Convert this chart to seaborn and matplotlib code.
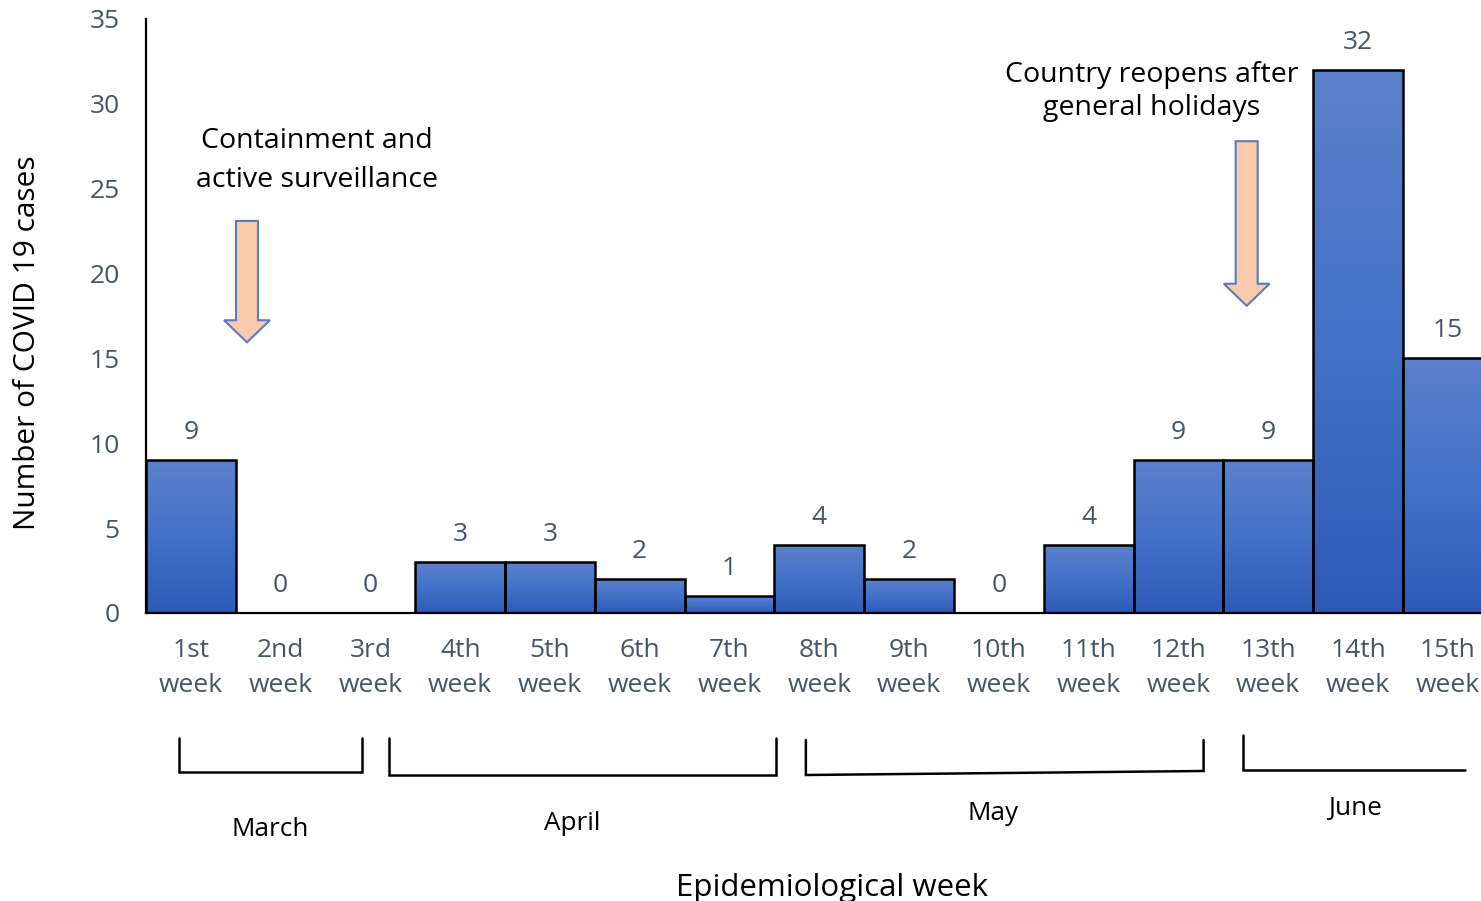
import numpy as np
import pandas as pd
import seaborn as sns
import matplotlib.pyplot as plt
from matplotlib.colors import LinearSegmentedColormap
from matplotlib.patches import FancyArrow
from matplotlib.transforms import blended_transform_factory

# --- data -------------------------------------------------------------
week_labels = ["1st\nweek", "2nd\nweek", "3rd\nweek", "4th\nweek", "5th\nweek",
               "6th\nweek", "7th\nweek", "8th\nweek", "9th\nweek", "10th\nweek",
               "11th\nweek", "12th\nweek", "13th\nweek", "14th\nweek", "15th\nweek"]
cases = [9, 0, 0, 3, 3, 2, 1, 4, 2, 0, 4, 9, 9, 32, 15]
months = ["March", "April", "May", "June"]
y_ticks = [0, 5, 10, 15, 20, 25, 30, 35]

note_containment = "Containment and\nactive surveillance"
note_reopening = "Country reopens after\ngeneral holidays"

# --- style ------------------------------------------------------------
sns.set_style("white")
plt.rcParams["font.family"] = ["Open Sans", "DejaVu Sans"]
tick_color = "#44546A"
W, H = 1481, 901

fig = plt.figure(figsize=(W / 100, H / 100), dpi=100)
ax = fig.add_axes([146 / W, 1 - 613 / H, (W - 146) / W, (613 - 19) / H])

df = pd.DataFrame({"week": week_labels, "cases": cases})
sns.barplot(data=df, x="week", y="cases", width=1.0, color="#4472C4",
            saturation=1, edgecolor="black", linewidth=1.8, ax=ax)

# vertical gradient inside each bar
cmap = LinearSegmentedColormap.from_list("bar_grad", ["#2D5AB8", "#4472C8", "#5C80CC"])
grad = np.linspace(0, 1, 256).reshape(-1, 1)
for patch in ax.patches:
    h = patch.get_height()
    if h <= 0:
        continue
    x0 = patch.get_x()
    im = ax.imshow(grad, extent=(x0, x0 + patch.get_width(), 0, h), origin="lower",
                   aspect="auto", cmap=cmap, zorder=patch.get_zorder() - 0.1)
    im.set_clip_path(patch)
    patch.set_facecolor("none")

# value labels above bars
ax.bar_label(ax.containers[0], labels=[str(v) for v in cases], padding=11,
             fontsize=19, color=tick_color)

ax.set_xlim(-0.5, 14.37)
ax.set_ylim(0, 35)
ax.set_yticks(y_ticks)
ax.tick_params(axis="both", length=0, labelsize=19, labelcolor=tick_color)
ax.tick_params(axis="y", pad=19)
ax.tick_params(axis="x", pad=18)
for lbl in ax.get_xticklabels():
    lbl.set_linespacing(1.54)

for side in ["top", "right"]:
    ax.spines[side].set_visible(False)
for side in ["left", "bottom"]:
    ax.spines[side].set_color("black")
    ax.spines[side].set_linewidth(1.6)

ax.set_ylabel("Number of COVID 19 cases", fontsize=21.5, color="black")
ax.yaxis.label.set_verticalalignment("center")
ax.yaxis.set_label_coords((28 - 146) / (W - 146), (613 - 343) / 594)
ax.set_xlabel("Epidemiological week", fontsize=22.5, color="black")
ax.xaxis.label.set_verticalalignment("center")
ax.xaxis.set_label_coords((832 - 146) / (W - 146), (613 - 888) / 594)

# --- annotations: notes and block arrows --------------------------------
ax.text(1.40, 26.68, note_containment, ha="center", va="center", fontsize=20.5,
        linespacing=1.51, color="black")
ax.text(10.70, 30.72, note_reopening, ha="center", va="center", fontsize=20.5,
        linespacing=1.25, color="black")

for xa, y_start, y_end in [(0.625, 23.1, 15.95), (11.76, 27.8, 18.1)]:
    arr = FancyArrow(xa, y_start, 0, y_end - y_start, width=0.245, head_width=0.51,
                     head_length=1.3, length_includes_head=True,
                     facecolor="#F8CBAD", edgecolor="#5B7BBE", linewidth=1.5,
                     zorder=5)
    ax.add_patch(arr)

# --- month brackets below the week labels ------------------------------
bt = blended_transform_factory(ax.transData, fig.transFigure)
fy = lambda py: 1 - py / H
brackets = [
    # (x_left, x_right, y_top, y_bottom_left, y_bottom_right, closed_right)
    (-0.13, 1.905, 738, 772, 772, True),
    (2.206, 6.516, 738, 775, 775, True),
    (6.85, 11.28, 740, 775, 771, True),
    (11.716, 14.19, 735, 770, 770, False),
]
for xl, xr, yt, ybl, ybr, closed in brackets:
    xs = [xl, xl, xr]
    ys = [fy(yt), fy(ybl), fy(ybr)]
    if closed:
        xs.append(xr)
        ys.append(fy(yt))
    ax.plot(xs, ys, color="black", linewidth=1.8, transform=bt, clip_on=False,
            solid_joinstyle="miter")

month_pos = [(270, 829), (572, 824), (993, 813), (1355, 808)]
for name, (px, py) in zip(months, month_pos):
    fig.text(px / W, fy(py), name, ha="center", va="center", fontsize=18.8,
             color="black")

fig.savefig("out.png", dpi=100)
